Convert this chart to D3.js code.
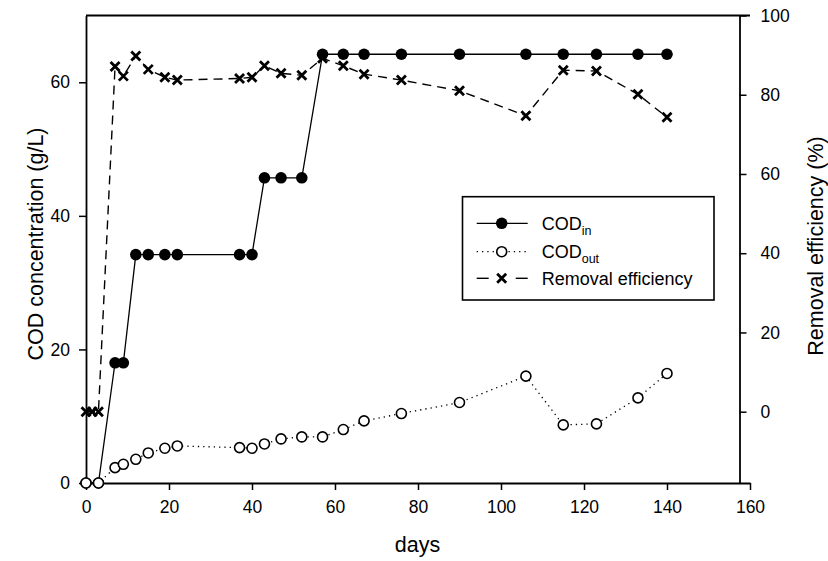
<!DOCTYPE html>
<html><head><meta charset="utf-8">
<script src="https://cdn.jsdelivr.net/npm/d3@7"></script>
<style>
html,body{margin:0;padding:0;background:#fff;}
text{font-family:"Liberation Sans",Arial,sans-serif;fill:#000;}
</style></head>
<body><svg id="c" width="828" height="561"></svg>
<script>
const codDays = [0,3,7,9,12,15,19,22,37,40,43,47,52,57,62,67,76,90,106,115,123,133,140];
const codIn = [0,0,18,18,34.2,34.2,34.2,34.2,34.2,34.2,45.7,45.7,45.7,64.2,64.2,64.2,64.2,64.2,64.2,64.2,64.2,64.2,64.2];
const codOut = [0,0,2.3,2.8,3.55,4.5,5.2,5.55,5.3,5.2,5.85,6.6,6.9,6.9,8.0,9.3,10.4,12.05,16.0,8.7,8.85,12.75,16.4];
const remDays = [0,1.5,3,7,9,12,15,19,22,37,40,43,47,52,57,62,67,76,90,106,115,123,133,140];
const removal = [0,0,0,87.1,84.7,89.8,86.4,84.4,83.7,84.1,84.4,87.3,85.4,84.9,89.2,87.3,85.2,83.7,81.0,74.7,86.2,86.0,80.1,74.3];
const xTicks = [0,20,40,60,80,100,120,140,160];
const yLeftTicks = [0,20,40,60];
const yRightTicks = [0,20,40,60,80,100];
const legendLabels = [["COD","in"],["COD","out"],["Removal efficiency",""]];

const svg = d3.select("#c");
const x = d3.scaleLinear().domain([0,160]).range([86,750]);
const yL = d3.scaleLinear().domain([0,70]).range([483,15.5]);
const yR = d3.scaleLinear().domain([-18,100]).range([483,15.5]);
const rightX = 739.5;

function styleAxis(g){
  g.selectAll(".domain").attr("stroke","#000").attr("stroke-width",1.8);
  g.selectAll(".tick line").attr("stroke","#000").attr("stroke-width",1.5);
  g.selectAll(".tick text").style("font-family","'Liberation Sans',Arial,sans-serif").style("font-size","17.5px").attr("fill","#000");
}
svg.append("g").attr("transform","translate(0,483)")
  .call(d3.axisBottom(x).tickValues(xTicks).tickSize(7).tickSizeOuter(0).tickPadding(11).tickFormat(d3.format("d")))
  .call(styleAxis);
svg.append("g").attr("transform","translate(86,0)")
  .call(d3.axisLeft(yL).tickValues(yLeftTicks).tickSize(7).tickSizeOuter(0).tickPadding(9).tickFormat(d3.format("d")))
  .call(styleAxis);
svg.append("g").attr("transform",`translate(${rightX},0)`)
  .call(d3.axisRight(yR).tickValues(yRightTicks).tickSize(7).tickSizeOuter(0).tickPadding(14).tickFormat(d3.format("d")))
  .call(styleAxis);
// top frame line
svg.append("line").attr("x1",x(0)).attr("x2",x(160)).attr("y1",yL(70)).attr("y2",yL(70))
  .attr("stroke","#000").attr("stroke-width",1.8);

// lines
const inData = codDays.map((d,i)=>[d,codIn[i]]);
const outData = codDays.map((d,i)=>[d,codOut[i]]);
const remData = remDays.map((d,i)=>[d,removal[i]]);
const lineL = d3.line().x(d=>x(d[0])).y(d=>yL(d[1]));
const lineR = d3.line().x(d=>x(d[0])).y(d=>yR(d[1]));

svg.append("path").attr("d",lineL(inData)).attr("fill","none").attr("stroke","#000").attr("stroke-width",1.3);
svg.append("path").attr("d",lineL(outData)).attr("fill","none").attr("stroke","#000").attr("stroke-width",1.3).attr("stroke-dasharray","1.3,4");
svg.append("path").attr("d",lineR(remData)).attr("fill","none").attr("stroke","#000").attr("stroke-width",1.4).attr("stroke-dasharray","9,6");

svg.append("g").selectAll("circle").data(inData).join("circle")
  .attr("cx",d=>x(d[0])).attr("cy",d=>yL(d[1])).attr("r",5.8).attr("fill","#000");
svg.append("g").selectAll("circle").data(outData).join("circle")
  .attr("cx",d=>x(d[0])).attr("cy",d=>yL(d[1])).attr("r",5).attr("fill","#fff").attr("stroke","#000").attr("stroke-width",1.6);
const xm = "M-4.5,-4.5L4.5,4.5M-4.5,4.5L4.5,-4.5";
svg.append("g").selectAll("path").data(remData).join("path")
  .attr("transform",d=>`translate(${x(d[0])},${yR(d[1])})`).attr("d",xm)
  .attr("fill","none").attr("stroke","#000").attr("stroke-width",2.8);

// axis titles
svg.append("text").attr("transform","translate(43,244) rotate(-90)").attr("text-anchor","middle")
  .style("font-size","21.5px").text("COD concentration (g/L)");
svg.append("text").attr("transform","translate(822.5,246) rotate(-90)").attr("text-anchor","middle")
  .style("font-size","21.5px").text("Removal efficiency (%)");
svg.append("text").attr("x",417.5).attr("y",552).attr("text-anchor","middle")
  .style("font-size","21.5px").text("days");

// legend
const lg = svg.append("g");
lg.append("rect").attr("x",462.5).attr("y",196.7).attr("width",251.5).attr("height",103.3)
  .attr("fill","#fff").attr("stroke","#000").attr("stroke-width",1.6);
const rows = [223.3,251.7,278.3];
const lx1 = 476.7, lx2 = 527.7, lmx = 501.7;
lg.append("line").attr("x1",lx1).attr("x2",lx2).attr("y1",rows[0]).attr("y2",rows[0]).attr("stroke","#000").attr("stroke-width",1.3);
lg.append("circle").attr("cx",lmx).attr("cy",rows[0]).attr("r",5.8).attr("fill","#000");
lg.append("line").attr("x1",lx1).attr("x2",lx2).attr("y1",rows[1]).attr("y2",rows[1]).attr("stroke","#000").attr("stroke-width",1.3).attr("stroke-dasharray","1.3,4");
lg.append("circle").attr("cx",lmx).attr("cy",rows[1]).attr("r",5).attr("fill","#fff").attr("stroke","#000").attr("stroke-width",1.6);
lg.append("line").attr("x1",lx1).attr("x2",lx1+12).attr("y1",rows[2]).attr("y2",rows[2]).attr("stroke","#000").attr("stroke-width",1.4);
lg.append("line").attr("x1",lx2-12).attr("x2",lx2).attr("y1",rows[2]).attr("y2",rows[2]).attr("stroke","#000").attr("stroke-width",1.4);
lg.append("path").attr("transform",`translate(${lmx},${rows[2]})`).attr("d",xm).attr("fill","none").attr("stroke","#000").attr("stroke-width",2.8);
legendLabels.forEach((l,i)=>{
  const t = lg.append("text").attr("x",541.7).attr("y",rows[i]+6.5).style("font-size","18px");
  t.append("tspan").text(l[0]);
  if(l[1]) t.append("tspan").attr("dy",5).style("font-size","12.5px").text(l[1]);
});
</script></body></html>
